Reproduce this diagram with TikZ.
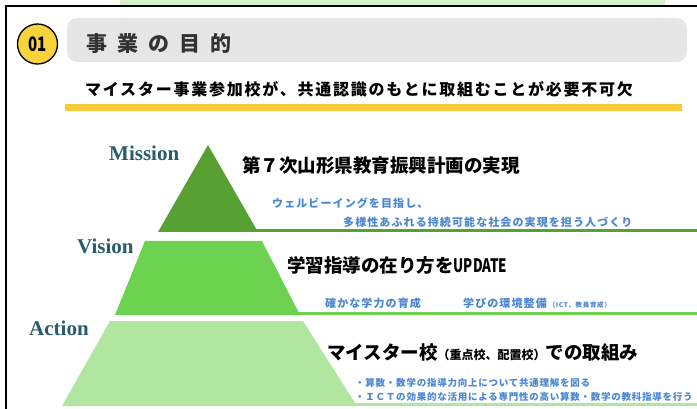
\documentclass[tikz,border=0pt]{standalone}
\usepackage{fontspec}
\usepackage{graphicx}
\setmainfont{Liberation Serif}
\newfontfamily\jp{Noto Sans CJK JP}
\definecolor{topgreen}{RGB}{214,240,204}
\definecolor{circy}{RGB}{250,210,60}
\definecolor{boxgray}{RGB}{230,230,230}
\definecolor{bary}{RGB}{248,202,58}
\definecolor{gdark}{RGB}{87,160,50}
\definecolor{gmid}{RGB}{108,210,79}
\definecolor{glight}{RGB}{176,230,160}
\definecolor{tealtxt}{RGB}{40,92,108}
\definecolor{bluetxt}{RGB}{74,134,210}
\definecolor{titlegray}{RGB}{51,51,51}
\tikzset{
  lvl/.style={font={\fontsize{21}{21}\selectfont\bfseries}, text=tealtxt, anchor=west, inner sep=0},
  mainjp/.style={font={\jp\bfseries\fontsize{18.5}{18.5}\selectfont}, text=black, anchor=west, inner sep=0},
  bluejp/.style={font={\jp\bfseries\fontsize{11}{11}\selectfont\addfontfeature{LetterSpace=10}}, text=bluetxt, anchor=west, inner sep=0},
  smalljp/.style={font={\jp\bfseries\fontsize{9.5}{9.5}\selectfont\addfontfeature{LetterSpace=8}}, text=bluetxt, anchor=west, inner sep=0},
}
\begin{document}
\begin{tikzpicture}[x=1pt,y=-1pt]
\useasboundingbox (0,0) rectangle (697,409);
% top strip and frame
\fill[topgreen] (120,0) rectangle (665,5.5);
\draw[black, line width=2pt] (5.5,409) -- (5.5,6) -- (697,6);
% header
\fill[boxgray, rounded corners=10pt] (67,18) rectangle (687,62);
\node[circle, draw=black, line width=1.3pt, fill=circy, minimum size=40pt, inner sep=0,
      font={\jp\bfseries\fontsize{20}{20}\selectfont}] (num) at (37.5,44) {\scalebox{0.75}[1]{01}};
\node[anchor=west, inner sep=0, text=titlegray, font={\jp\bfseries\fontsize{21}{21}\selectfont}] (title) at (86,44)
  {事\hspace{10pt}業\hspace{10pt}の\hspace{10pt}目\hspace{10pt}的};
\node[anchor=west, inner sep=0, text=black, font={\jp\bfseries\fontsize{16}{16}\selectfont\addfontfeature{LetterSpace=11}}] (sub) at (85,89)
  {マイスター事業参加校が、共通認識のもとに取組むことが必要不可欠};
\fill[bary] (65,104.5) rectangle (682,111);
% pyramid
\fill[gdark] (208,145) -- (258,232) -- (158,232) -- cycle;
\fill[gdark] (256,229) rectangle (697,232);
\fill[gmid] (145,241) -- (262,241) -- (300,315) -- (115,315) -- cycle;
\fill[gmid] (298,312) rectangle (697,315);
\fill[glight] (110,321) -- (303,321) -- (357,406) -- (62,406) -- cycle;
\fill[glight] (355,403) rectangle (697,406);
% level labels
\node[lvl] (mis) at (109,153) {Mission};
\node[lvl] (vis) at (77,246) {Vision};
\node[lvl] (act) at (29,328) {Action};
% texts
\node[mainjp] (m1) at (242,165) {第７次山形県教育振興計画の実現};
\node[bluejp] (m2) at (272,203) {ウェルビーイングを目指し、};
\node[bluejp] (m3) at (343,222) {多様性あふれる持続可能な社会の実現を担う人づくり};
\node[mainjp] (v1) at (287,265) {学習指導の在り方を\scalebox{0.72}[1]{UPDATE}};
\node[bluejp] (v2) at (325,303) {確かな学力の育成};
\node[bluejp] (v3) at (463,303) {学びの環境整備\hspace{2pt}{\fontsize{6.5}{6.5}\selectfont（ICT、教員育成）}};
\node[mainjp] (a1) at (327,352) {マイスター校{\fontsize{12}{12}\selectfont（重点校、配置校）}での取組み};
\node[smalljp] (a2) at (355,383) {・算数・数学の指導力向上について共通理解を図る};
\node[smalljp] (a3) at (355,397) {・ＩＣＴの効果的な活用による専門性の高い算数・数学の教科指導を行う};
\end{tikzpicture}
\end{document}
